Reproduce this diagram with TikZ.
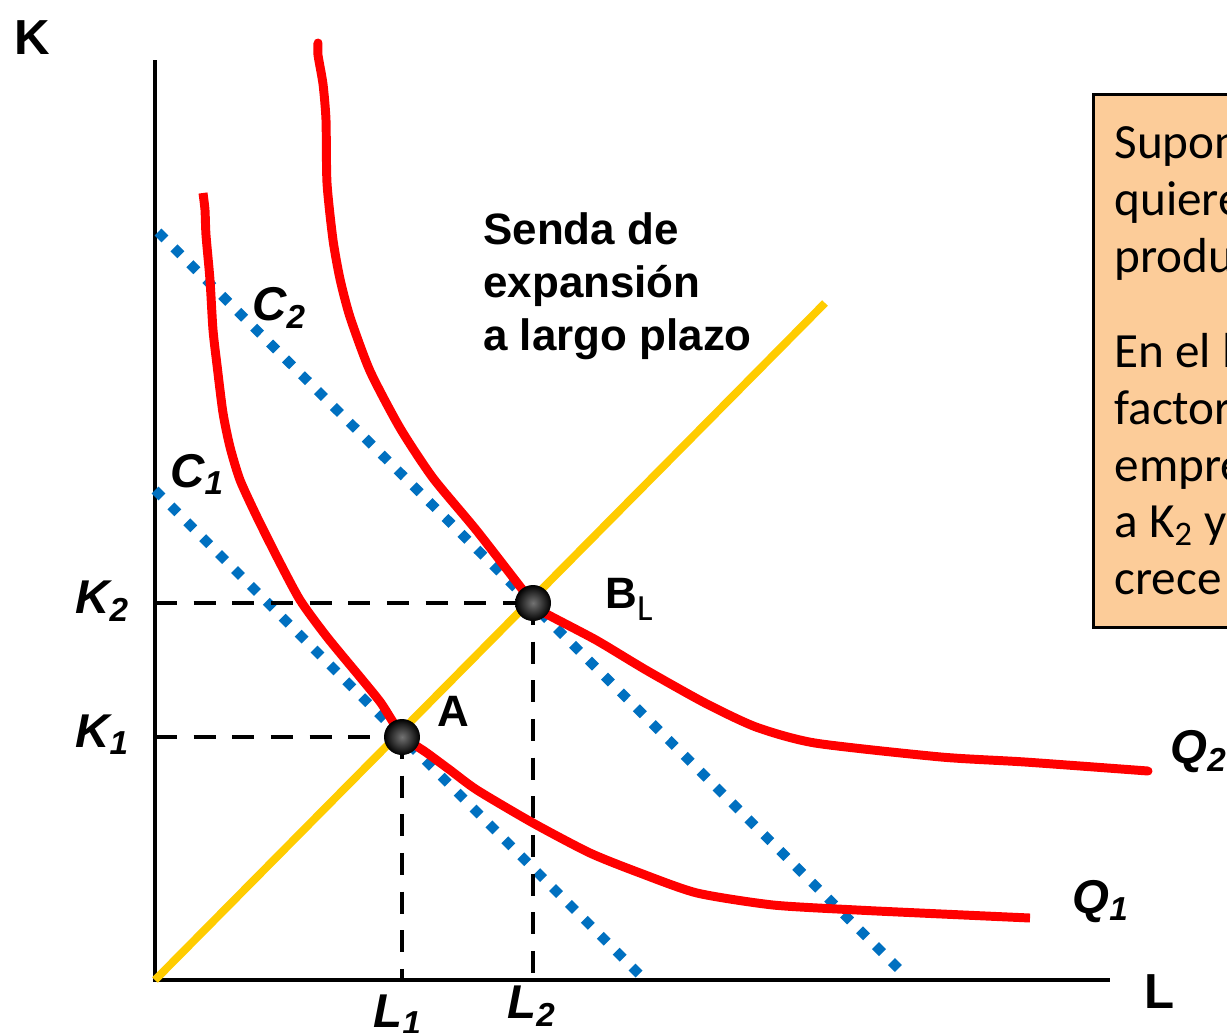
\documentclass[tikz,border=0pt]{standalone}
\usepackage{fontspec}
\setmainfont{Liberation Sans}
\newfontfamily\boxfont{Carlito}
\usepackage{tikz}
\usetikzlibrary{positioning,calc,shadings}

\definecolor{qred}{RGB}{255,0,0}
\definecolor{sendayellow}{RGB}{255,204,0}
\definecolor{costblue}{RGB}{0,112,192}
\definecolor{notefill}{RGB}{252,204,153}

\begin{document}
\begin{tikzpicture}[
    x=0.02cm, y=-0.02cm,
    axis/.style={line width=2.8pt},
    isoquant/.style={draw=qred, line width=5.1pt, line join=round},
    isocost/.style={draw=costblue, line width=5.6pt, dash pattern=on 5.6pt off 7.2pt},
    expansion/.style={draw=sendayellow, line width=4.5pt},
    guide/.style={line width=2.5pt, dash pattern=on 12.5pt off 9.5pt},
    ball/.style={circle, minimum size=0.72cm, inner sep=0pt, shading=radial, inner color=black!55, outer color=black},
    axlabel/.style={font=\fontsize{28}{30}\selectfont\bfseries},
    curvelabel/.style={font=\fontsize{27}{30}\selectfont\bfseries\itshape, anchor=base west, inner sep=0pt},
    ptlabel/.style={font=\fontsize{25}{28}\selectfont\bfseries, anchor=base west, inner sep=0pt},
    note/.style={draw, line width=1.7pt, fill=notefill, anchor=north west, minimum height=10.66cm, text width=7cm, inner xsep=0.42cm, align=left}
]
\useasboundingbox (0,0) rectangle (1227,1032);
\clip (0,0) rectangle (1227,1032);

% Axes
\coordinate (O) at (155,980);
\coordinate (Ktop) at (155,60);
\coordinate (Lend) at (1110,980);
\draw[axis] (Ktop) -- (O) -- (Lend);

% Isocost lines
\coordinate (C1a) at (155,490);
\coordinate (C1b) at (643,978);
\coordinate (C2a) at (158,232);
\coordinate (C2b) at (905,975);
\draw[isocost] (C1a) -- (C1b);
\draw[isocost] (C2a) -- (C2b);

% Expansion path
\coordinate (Send) at (825,303);
\draw[expansion] (O) -- (Send);

% Tangency points
\node[ball, opacity=0] (A) at (402,737) {};
\node[ball, opacity=0] (B) at (533,603) {};

% Guides
\draw[guide] (A.center -| O) -- (A.center);
\draw[guide] (A.center) -- (A.center |- O);
\draw[guide] (B.center -| O) -- (B.center);
\draw[guide] (B.center) -- (B.center |- O);

% Isoquants
\draw[isoquant] plot[smooth, tension=0.4] coordinates {(203,193) (205,210) (206,235) (210,280) (213,330) (217,365) (223,413) (230,447) (240,480) (257,517) (277,557) (300,600) (327,637) (360,677) (381,703) (402,735) (427,753) (450,770) (477,790) (533,823) (590,853) (640,873) (697,893) (773,905) (857,910) (920,913) (1030,918)};
\draw[isoquant, line cap=round] plot[smooth, tension=0.4] coordinates {(318,43) (318,55) (323,84) (326,120) (327,183) (333,240) (340,279) (350,317) (370,371) (400,428) (433,478) (477,531) (533,603) (543,612) (596,640) (646,670) (705,703) (756,727) (815,743) (941,757) (1025,762) (1148,771)};

\node[ball] (Aball) at (A) {};
\node[ball] (Bball) at (B) {};

% Labels
\node[axlabel] (Klab) at (32,38) {K};
\node[axlabel] (Llab) at (1160,992) {L};
\node[curvelabel] (K2lab) at (75,613) {K\textsubscript{2}};
\node[curvelabel] (K1lab) at (75,747) {K\textsubscript{1}};
\node[curvelabel] (L1lab) at (373,1027) {L\textsubscript{1}};
\node[curvelabel] (L2lab) at (507,1018) {L\textsubscript{2}};
\node[curvelabel] (C2lab) at (252,320) {C\textsubscript{2}};
\node[curvelabel] (C1lab) at (170,487) {C\textsubscript{1}};
\node[curvelabel] (Q2lab) at (1170,763) {Q\textsubscript{2}};
\node[curvelabel] (Q1lab) at (1072,913) {Q\textsubscript{1}};
\node[ptlabel] (Alab) at (437,726) {A};
\node[ptlabel] (Blab) at (605,608) {B\raisebox{-7pt}{\boxfont\mdseries\fontsize{21}{21}\selectfont L}};

\node[font=\fontsize{25}{30.3}\selectfont\bfseries, align=left, anchor=north west, inner sep=0pt] (senda) at (483,212) {\spaceskip=0pt Senda de\\expansión\\a largo plazo};

% Note box
\node[note, font=\boxfont\fontsize{28}{32.3}\selectfont] (notebox) at (1092,93) {\spaceskip=0pt\xspaceskip=0pt Supon\\quiere\\produ\\[22pt]En el l\\factor\\empre\\a K\textsubscript{2} y\\crece};

\end{tikzpicture}
\end{document}
